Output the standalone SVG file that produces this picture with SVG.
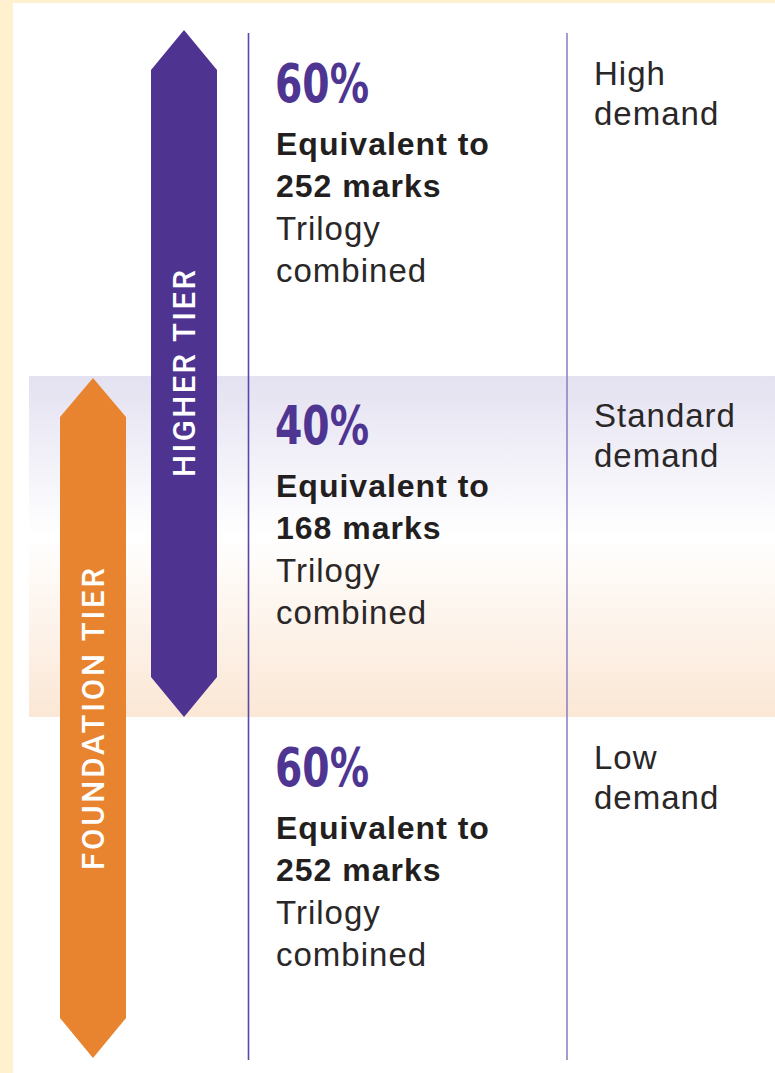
<svg xmlns="http://www.w3.org/2000/svg" width="775" height="1073" viewBox="0 0 775 1073">
  <defs>
    <linearGradient id="band" x1="0" y1="0" x2="0" y2="1">
      <stop offset="0" stop-color="#E4E1F1"/>
      <stop offset="0.47" stop-color="#FFFFFF"/>
      <stop offset="1" stop-color="#FBE7D5"/>
    </linearGradient>
    <style>
      .pct{font-family:"DejaVu Sans",Roboto,sans-serif;font-weight:700;font-size:54px;fill:#4F3592}
      .bold{font-family:"Liberation Sans",Arial,sans-serif;font-weight:700;font-size:32px;fill:#231F20;letter-spacing:1px}
      .reg{font-family:"Liberation Sans",Arial,sans-serif;font-size:33px;fill:#2A2728;letter-spacing:1px}
      .tier{font-family:Roboto,"Liberation Sans",sans-serif;font-weight:500;font-size:31px;fill:#FFFFFF}
      .vline{stroke-width:1.6;fill:none}
    </style>
  </defs>
  <rect x="0" y="0" width="775" height="1073" fill="#FFF1CF"/>
  <rect x="13" y="3" width="762" height="1070" fill="#FFFFFF"/>
  <rect id="band-standard" x="29" y="376" width="746" height="341" fill="url(#band)"/>

  <g id="connectors">
    <line class="vline" x1="248.5" y1="33" x2="248.5" y2="1060" stroke="#5847A6"/>
    <line class="vline" x1="567" y1="33" x2="567" y2="1060" stroke="#8D84C4"/>
  </g>

  <g id="higher-tier">
    <polygon points="184,30 217,70 217,677 184,717 151,677 151,70" fill="#4F3391"/>
    <text class="tier" transform="translate(195,373.5) rotate(-90)" text-anchor="middle" textLength="207" lengthAdjust="spacing">HIGHER TIER</text>
  </g>

  <g id="foundation-tier">
    <polygon points="93,378 126,417 126,1018 93,1058 60,1018 60,417" fill="#E8842F"/>
    <text class="tier" transform="translate(103.5,719) rotate(-90)" text-anchor="middle" textLength="302" lengthAdjust="spacing">FOUNDATION TIER</text>
  </g>

  <g id="high-demand">
    <text class="pct" x="275" y="102" textLength="94" lengthAdjust="spacingAndGlyphs">60%</text>
    <text class="bold" x="276" y="155">Equivalent to</text>
    <text class="bold" x="276" y="197">252 marks</text>
    <text class="reg" x="276" y="240">Trilogy</text>
    <text class="reg" x="276" y="282">combined</text>
    <text class="reg" x="594" y="85">High</text>
    <text class="reg" x="594" y="125">demand</text>
  </g>

  <g id="standard-demand">
    <text class="pct" x="275" y="444" textLength="94" lengthAdjust="spacingAndGlyphs">40%</text>
    <text class="bold" x="276" y="497">Equivalent to</text>
    <text class="bold" x="276" y="539">168 marks</text>
    <text class="reg" x="276" y="582">Trilogy</text>
    <text class="reg" x="276" y="624">combined</text>
    <text class="reg" x="594" y="427">Standard</text>
    <text class="reg" x="594" y="467">demand</text>
  </g>

  <g id="low-demand">
    <text class="pct" x="275" y="786" textLength="94" lengthAdjust="spacingAndGlyphs">60%</text>
    <text class="bold" x="276" y="839">Equivalent to</text>
    <text class="bold" x="276" y="881">252 marks</text>
    <text class="reg" x="276" y="924">Trilogy</text>
    <text class="reg" x="276" y="966">combined</text>
    <text class="reg" x="594" y="769">Low</text>
    <text class="reg" x="594" y="809">demand</text>
  </g>
</svg>
